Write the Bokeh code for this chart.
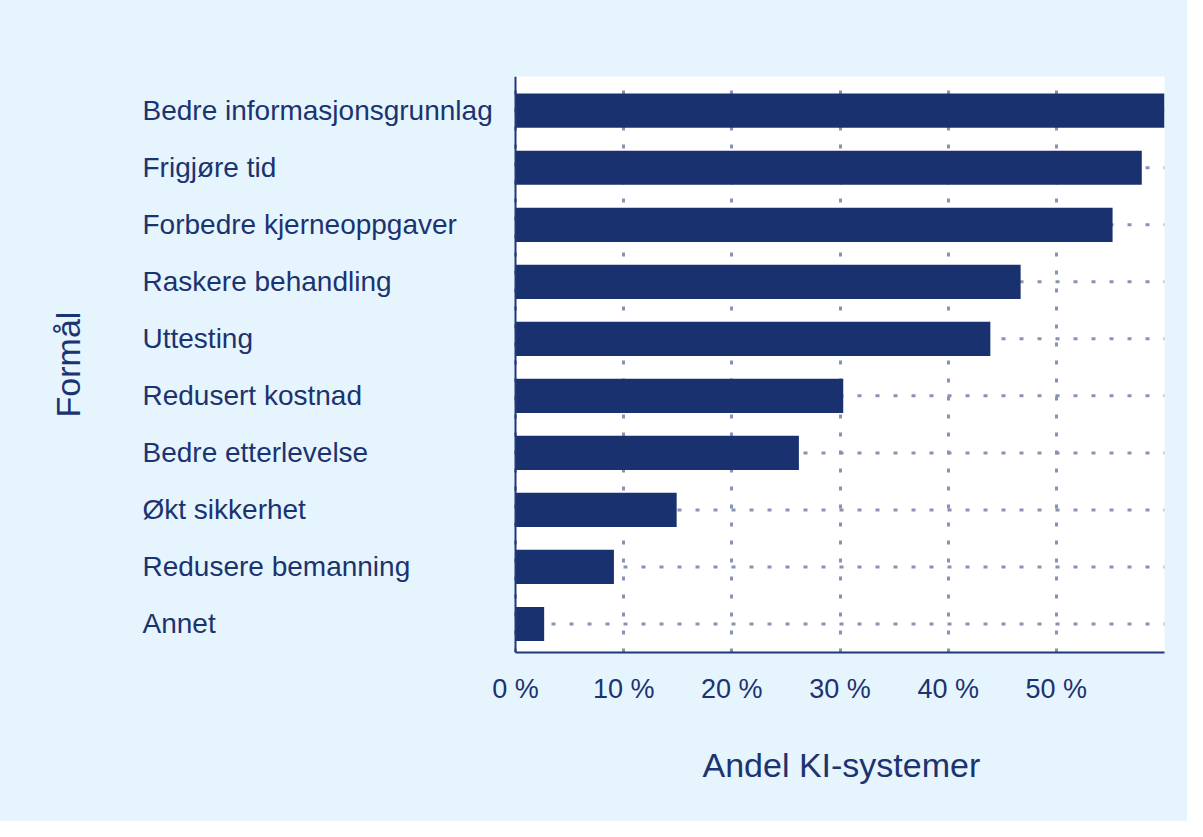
from bokeh.plotting import figure
from bokeh.models import Range1d, FixedTicker, ColumnDataSource, BoxAnnotation, Span, Title
from bokeh.core.properties import value
from bokeh.embed import file_html
from bokeh.resources import INLINE

# ---- data ----
categories = [
    "Bedre informasjonsgrunnlag",
    "Frigjøre tid",
    "Forbedre kjerneoppgaver",
    "Raskere behandling",
    "Uttesting",
    "Redusert kostnad",
    "Bedre etterlevelse",
    "Økt sikkerhet",
    "Redusere bemanning",
    "Annet",
]
shares = [60.0, 57.9, 55.2, 46.7, 43.9, 30.3, 26.2, 14.9, 9.1, 2.65]
x_ticks = [0, 10, 20, 30, 40, 50]
x_tick_labels = ["0 %", "10 %", "20 %", "30 %", "40 %", "50 %"]
x_max = 60
x_title = "Andel KI-systemer"
y_title = "Formål"

# ---- styles / layout ----
FONT = "Liberation Sans"
TEXT = "#1B3370"
BAR = "#19326F"
AXIS = "#22387A"
GRID = "#8892B6"
BG = "#E6F5FD"

W, H = 1187, 821
FRAME_LEFT = 120      # px, left edge of frame (label column lives inside frame)
AXIS_PX = 515         # px, where value 0 sits
FRAME_RIGHT = 1164    # px
LABEL_PX = 142        # px, left edge of category labels
XTITLE_OFFSET = 582   # px from frame left to x-title start

units_per_px = x_max / (FRAME_RIGHT - AXIS_PX)
x_start = -(AXIS_PX - FRAME_LEFT) * units_per_px

n = len(categories)
ypos = [n - 1 - i for i in range(n)]
src = ColumnDataSource(dict(cat=categories, share=shares, y=ypos))

p = figure(
    width=W, height=H,
    x_range=Range1d(x_start, x_max), y_range=Range1d(-0.5, n - 0.4),
    output_backend="svg", toolbar_location=None,
    min_border_left=FRAME_LEFT, min_border_right=W - FRAME_RIGHT,
    min_border_top=76, min_border_bottom=169,
)
p.styles = {"background-color": BG}
p.border_fill_color = None
p.background_fill_color = BG
p.outline_line_color = None

# white plotting area right of the value axis (painted below the grid)
p.add_layout(BoxAnnotation(left=0, right=x_max + 20, bottom=-3, top=n + 3,
                           fill_color="white", fill_alpha=1.0,
                           line_color=None, level="image"))

# horizontal dotted category grid, only across the value area (under the bars)
p.segment(x0=0, x1=x_max, y0="y", y1="y", source=src,
          line_color=GRID, line_width=3, line_dash="4 14")

p.hbar(y="y", left=0, right="share", height=0.6, source=src,
       fill_color=BAR, line_color=None)

# category labels, left aligned
p.text(x=0, y="y", text="cat", source=src, x_offset=LABEL_PX - AXIS_PX,
       text_align="left", text_baseline="middle",
       text_font=value(FONT), text_font_size=value("28px"), text_color=TEXT)

# value axis line at 0
p.add_layout(Span(location=0, dimension="height", line_color=AXIS, line_width=2))

# x axis
xa = p.xaxis[0]
xa.ticker = FixedTicker(ticks=x_ticks)
xa.bounds = (0, x_max)
xa.major_label_overrides = {t: l for t, l in zip(x_ticks, x_tick_labels)}
xa.major_tick_line_color = None
xa.minor_tick_line_color = None
xa.axis_line_color = AXIS
xa.axis_line_width = 2
xa.major_label_text_font = FONT
xa.major_label_text_font_size = "27px"
xa.major_label_text_color = TEXT
xa.major_label_standoff = 15

# x title, centred under the value area
p.add_layout(Title(text=x_title, align="left", offset=XTITLE_OFFSET,
                   standoff=75, text_font=FONT, text_font_size="34px",
                   text_font_style="normal", text_color=TEXT), "below")

# y axis (only its title is shown)
ya = p.yaxis[0]
ya.ticker = FixedTicker(ticks=[])
ya.major_tick_line_color = None
ya.minor_tick_line_color = None
ya.axis_line_color = None
ya.axis_label = y_title
ya.axis_label_text_font = FONT
ya.axis_label_text_font_size = "34px"
ya.axis_label_text_font_style = "normal"
ya.axis_label_text_color = TEXT
ya.axis_label_standoff = 34

# vertical dotted grid at the value ticks
p.xgrid.ticker = FixedTicker(ticks=x_ticks)
p.xgrid.grid_line_color = GRID
p.xgrid.grid_line_width = 3
p.xgrid.grid_line_dash = "4 14"
p.ygrid.visible = False

with open("out.html", "w", encoding="utf-8") as f:
    f.write(file_html(p, INLINE))
